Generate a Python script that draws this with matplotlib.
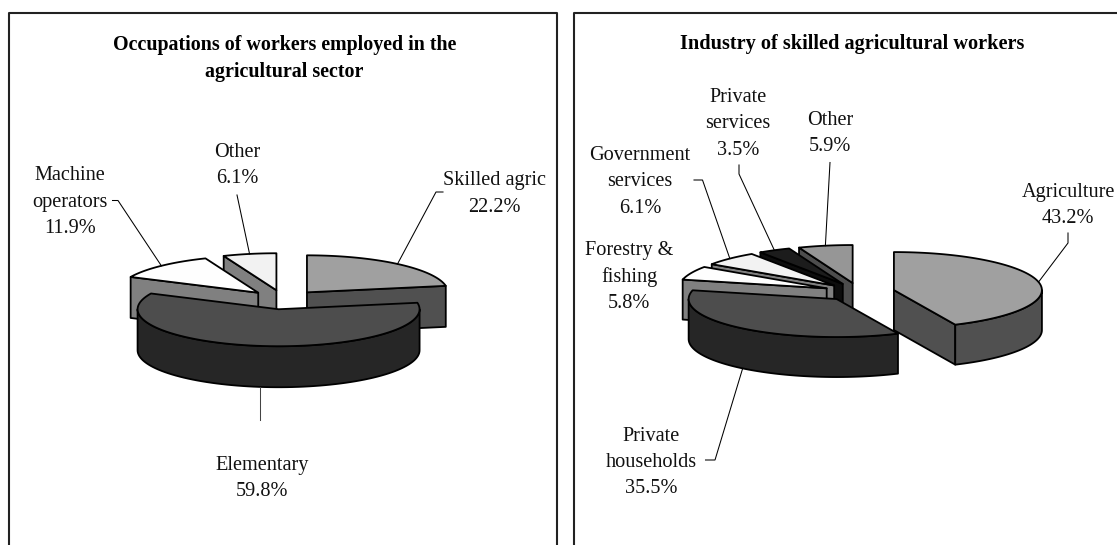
import numpy as np
from matplotlib import pyplot as plt

plt.rcParams['font.family'] = ['Liberation Serif', 'DejaVu Serif']

occupation_labels = ['Skilled agric', 'Elementary', 'Machine\noperators', 'Other']
occupation_values = [22.2, 59.8, 11.9, 6.1]

industry_labels = ['Agriculture', 'Private\nhouseholds', 'Forestry &\nfishing',
                   'Government\nservices', 'Private\nservices', 'Other']
industry_values = [43.2, 35.5, 5.8, 6.1, 3.5, 5.9]

# (top colour, side colour) per slice
occupation_colors = [('#a0a0a0', '#505050'), ('#4d4d4d', '#262626'),
                     ('#fefefe', '#808080'), ('#f2f2f2', '#808080')]
industry_colors = [('#a0a0a0', '#505050'), ('#4d4d4d', '#262626'),
                   ('#fefefe', '#808080'), ('#f2f2f2', '#808080'),
                   ('#1c1c1c', '#0d0d0d'), ('#969696', '#4d4d4d')]

EDGE = 1.3
TEXT_SIZE = 14.6


def rim_point(cx, cy, r, ry, deg):
    t = np.radians(deg)
    return cx + r * np.sin(t), cy - ry * np.cos(t)


def draw_pie(ax, values, colors, cx, cy, r, ry, depth, explode):
    """Exploded pie with a flat top and a dropped wall, back slices first."""
    edges = np.concatenate([[0], np.cumsum(values)]) / sum(values) * 360
    mids = (edges[:-1] + edges[1:]) / 2
    shifted = []
    for mid in mids:
        shifted.append(rim_point(cx, cy, explode * r, explode * ry, mid))

    order = np.argsort(-np.cos(np.radians(mids)))
    for z, i in enumerate(order):
        a, b = edges[i], edges[i + 1]
        px, py = shifted[i]
        top, side = colors[i]
        base = 10 + z * 5

        style = dict(facecolor=side, edgecolor='black', linewidth=EDGE,
                     joinstyle='round', zorder=base)
        # cut faces turned towards the viewer
        for angle, visible in ((a, np.sin(np.radians(a)) < -1e-6),
                               (b, np.sin(np.radians(b)) > 1e-6)):
            if visible:
                ex, ey = rim_point(px, py, r, ry, angle)
                ax.fill([px, ex, ex, px], [py, ey, ey + depth, py + depth], **style)

        # outer wall, front half only
        lo, hi = max(a, 90), min(b, 270)
        if lo < hi:
            t = np.linspace(lo, hi, 80)
            x, y = rim_point(px, py, r, ry, t)
            ax.fill(np.concatenate([x, x[::-1]]),
                    np.concatenate([y, y[::-1] + depth]), **style)

        t = np.linspace(a, b, 80)
        x, y = rim_point(px, py, r, ry, t)
        ax.fill(np.concatenate([[px], x]), np.concatenate([[py], y]),
                facecolor=top, edgecolor='black', linewidth=EDGE,
                joinstyle='round', zorder=base + 1)
    return mids, shifted


def leader(ax, points, color='black'):
    xs, ys = zip(*points)
    ax.plot(xs, ys, color=color, lw=0.75, solid_joinstyle='miter', zorder=60)


def put_labels(ax, labels, values, spots):
    for label, value, (x, y) in zip(labels, values, spots):
        ax.text(x, y, f'{label}\n{value:.1f}%', ha='center', va='center',
                fontsize=TEXT_SIZE, linespacing=1.52, color='#111111', zorder=70)


fig = plt.figure(figsize=(11.17, 5.45), dpi=100)
ax = fig.add_axes([0, 0, 1, 1])
ax.set_xlim(0, 1117)
ax.set_ylim(545, 0)
ax.axis('off')

# panel frames run off the page edges
for x0, x1 in ((9, 557), (574, 1135)):
    ax.plot([x0, x0, x1, x1], [560, 13, 13, 560], color='#222222', lw=1.5, zorder=1)

ax.text(284.5, 58.5, 'Occupations of workers employed in the\nagricultural sector',
        ha='center', va='center', fontsize=14.4, fontweight='bold', linespacing=1.5)
ax.text(852, 44, 'Industry of skilled agricultural workers',
        ha='center', va='center', fontsize=14.6, fontweight='bold')

# left pie
R1, RY1, D1 = 141, 37, 41
mids, shifted = draw_pie(ax, occupation_values, occupation_colors,
                         283.4, 299.7, R1, RY1, D1, 0.26)
spot = [rim_point(*shifted[i], R1, RY1, mids[i]) for i in range(4)]
leader(ax, [spot[0], (436, 192), (443, 192)])
leader(ax, [(spot[1][0], spot[1][1] + D1), (spot[1][0], 420)], color='#444444')
leader(ax, [spot[2], (118, 200.5), (112.5, 200.5)])
leader(ax, [spot[3], (237, 195)])
put_labels(ax, occupation_labels, occupation_values,
           [(494.5, 194), (262, 478.5), (70, 202), (237, 165.5)])

# right pie
R2, RY2, D2 = 148, 38, 40
mids, shifted = draw_pie(ax, industry_values, industry_colors,
                         859.2, 292, R2, RY2, D2, 0.24)
spot = [rim_point(*shifted[i], R2, RY2, mids[i]) for i in range(6)]
leader(ax, [spot[0], (1068, 243), (1068, 233)])
leader(ax, [(spot[1][0], spot[1][1] + D2), (715, 460), (705.5, 460)])
leader(ax, [spot[3], (702.5, 180), (694, 180)])
leader(ax, [spot[4], (739, 174), (739, 165)])
leader(ax, [spot[5], (830, 162.5)])
put_labels(ax, industry_labels, industry_values,
           [(1068, 205.5), (651, 462.5), (629, 277), (640, 182), (738, 124), (830, 133.5)])

fig.savefig('out.png', dpi=100)
